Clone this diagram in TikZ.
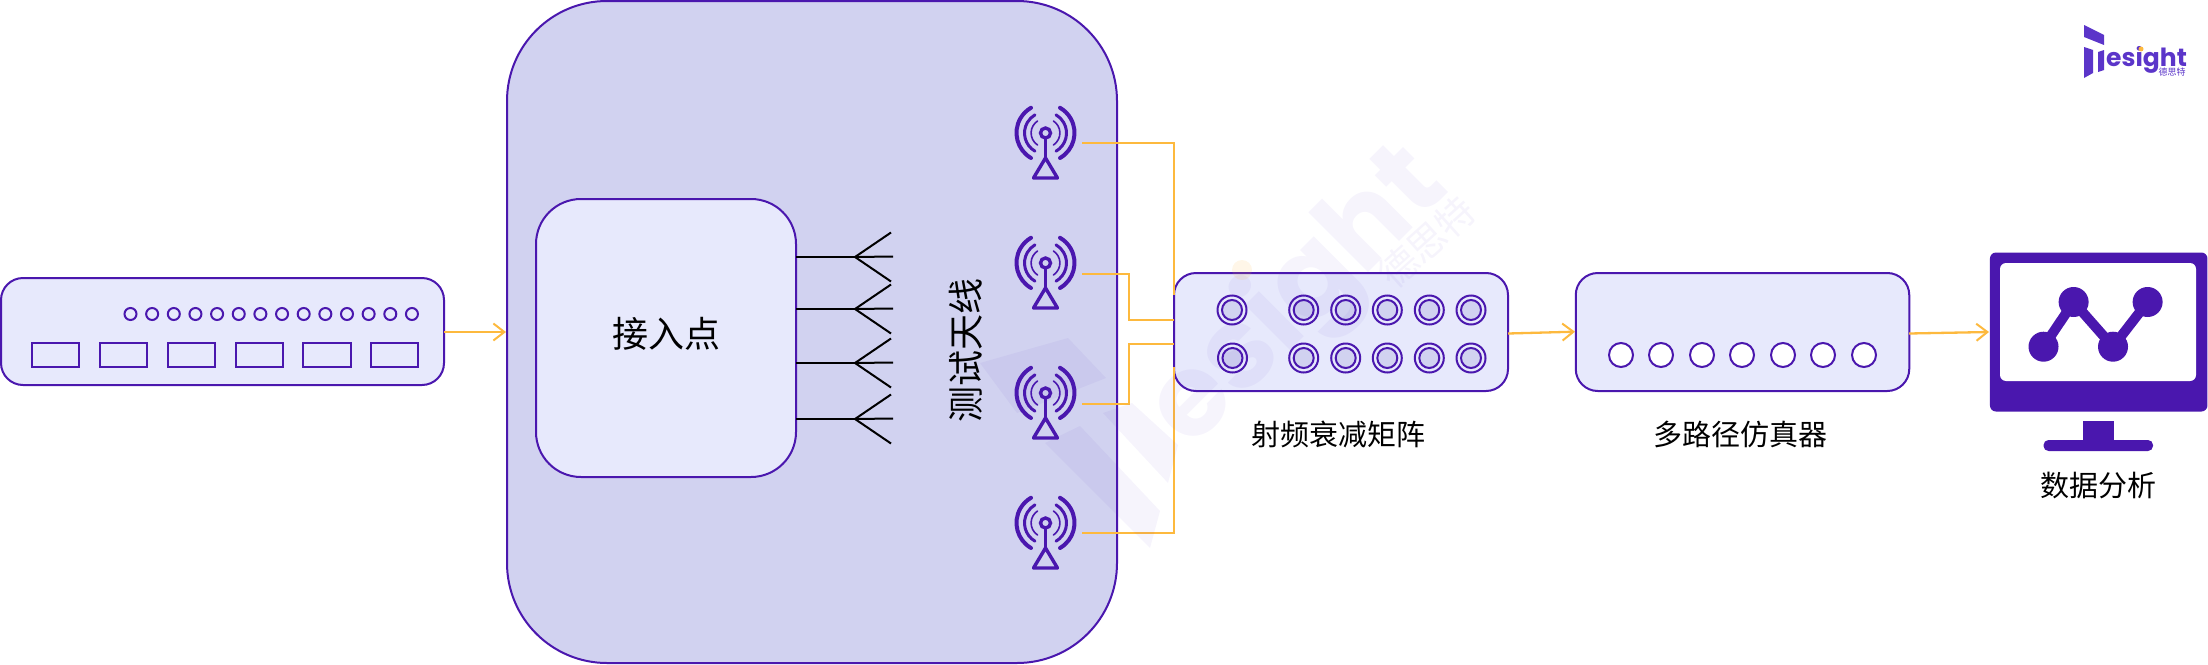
\documentclass[tikz,border=0pt]{standalone}
\usepackage{fontspec}
\setmainfont{Noto Sans CJK SC}
\newfontfamily\logofont{Poppins}
\usetikzlibrary{arrows.meta}
\definecolor{ink}{HTML}{4A17AE}
\definecolor{panel}{HTML}{E7E9FC}
\definecolor{chassis}{HTML}{D1D2F0}
\definecolor{feed}{HTML}{FDB93E}
\definecolor{brand}{HTML}{5B35C9}
\newcommand{\labelsize}[1]{\fontsize{#1}{#1}\selectfont}
\tikzset{
  x=1pt,y=-1pt,
  device/.style={draw=ink,line width=2pt,fill=panel},
  led/.style={draw=ink,line width=2pt,fill=none},
  slot/.style={draw=ink,line width=2pt,fill=none},
  feedline/.style={draw=feed,line width=2.3pt},
  signal/.style={feedline,-{Straight Barb[length=11pt,width=17pt,line width=2pt]}},
  element/.style={draw=black,line width=2pt},
  mastline/.style={draw=ink,line width=3.4pt,line cap=round},
  caption/.style={inner sep=0pt,text=black},
  wm/.style={fill=brand,fill opacity=0.055,draw=none},
}
% radio mast icon, #1 = position of the mast head
\newcommand{\radiomast}[1]{%
  \begin{scope}[shift={#1}]
    \draw[mastline,line width=4pt] (-14.5,25) arc[start angle=120,end angle=240,radius=29];
    \draw[mastline,line width=4pt] (14.5,25) arc[start angle=60,end angle=-60,radius=29];
    \draw[mastline,line width=3pt] (-10.5,18.2) arc[start angle=120,end angle=240,radius=21];
    \draw[mastline,line width=3pt] (10.5,18.2) arc[start angle=60,end angle=-60,radius=21];
    \draw[mastline,line width=1.6pt] (-8,12) arc[start angle=123.7,end angle=236.3,radius=14.4];
    \draw[mastline,line width=1.6pt] (8,12) arc[start angle=56.3,end angle=-56.3,radius=14.4];
    \draw[ink,line width=3.4pt] (0,0) circle[radius=5];
    \draw[mastline,line cap=butt] (0,5) -- (0,25);
    \draw[mastline,line join=round] (0,25) -- (12,45) -- (-12,45) -- cycle;
  \end{scope}}
% coaxial port on the attenuation matrix
\newcommand{\coaxport}[2]{%
  \draw[ink,line width=2pt] (#1,#2) circle[radius=14.5];
  \draw[ink,line width=2pt,fill=chassis] (#1,#2) circle[radius=10];}
\begin{document}
\begin{tikzpicture}
\useasboundingbox (0,0) rectangle (2208,664);

% traffic generator
\draw[device,rounded corners=22pt] (1,278) rectangle (444,385);
\foreach \i in {0,...,13} \draw[led] (130.5+\i*21.65,314) circle[radius=6];
\foreach \a/\b in {32/79,100/147,168/215,236/283,303/351,371/418}
  \draw[slot] (\a,343) rectangle (\b,367);

% shielded chamber
\draw[device,fill=chassis,rounded corners=100pt] (507,1) rectangle (1117,663);
\node[draw=ink,line width=2pt,fill=panel,rounded corners=45pt,minimum width=260pt,minimum height=278pt,inner sep=0pt] (ap) at (666,338) {};
\node[caption] (aplabel) at (666,334) {\labelsize{36}接入点};
\node[caption,rotate=90] (probelabel) at (966,350) {\labelsize{36}测试天线};

% access point antennas
\foreach \y/\n in {257/a,309/b,363/c,419/d}{
  \coordinate (root\n) at (796,\y);
  \coordinate (fork\n) at (855,\y);
  \coordinate (top\n) at (891,\y-24.5);
  \coordinate (mid\n) at (893,\y-0.5);
  \coordinate (low\n) at (891,\y+24.5);
  \draw[element] (root\n) -- (fork\n);
  \draw[element] (top\n) -- (fork\n) -- (low\n);
  \draw[element] (fork\n) -- (mid\n);
}

% test antennas
\radiomast{(1045.5,133)}
\radiomast{(1045.5,263)}
\radiomast{(1045.5,393)}
\radiomast{(1045.5,523)}

% RF attenuation matrix
\node[device,rounded corners=22pt,minimum width=334pt,minimum height=118pt,inner sep=0pt] (matrix) at (1341,332) {};
\coaxport{1232}{310}
\coaxport{1232.5}{358}
\foreach \x in {1303.7,1345.7,1387.3,1429.3,1471}{
  \coaxport{\x}{310}
  \coaxport{\x}{358}
}
\node[caption] (matrixlabel) at (1338,434) {\labelsize{29}射频衰减矩阵};

% multipath emulator
\node[device,rounded corners=22pt,minimum width=333.5pt,minimum height=118pt,inner sep=0pt] (emu) at (1742.5,332) {};
\foreach \x in {1621,1661,1702,1742,1783,1823,1864}
  \draw[led,fill=white] (\x,355) circle[radius=12];
\node[caption] (emulabel) at (1740,434) {\labelsize{29}多路径仿真器};

% analysis monitor
\node[fill=ink,rounded corners=6pt,minimum width=217.5pt,minimum height=159pt,inner sep=0pt] (screen) at (2098.7,332) {};
\fill[white,rounded corners=6pt] (2000,263) rectangle (2196,381);
\fill[ink] (2083,420.7) rectangle (2113.7,445);
\fill[ink,rounded corners=5pt] (2043.5,440) rectangle (2153,451);
\coordinate (pa) at (2043.5,346.7);
\coordinate (pb) at (2073.6,302);
\coordinate (pc) at (2113,346.7);
\coordinate (pd) at (2147.6,302);
\draw[ink,line width=10pt] (pa) -- (pb) -- (pc) -- (pd);
\foreach \p in {pa,pb,pc,pd} \fill[ink] (\p) circle[radius=15];
\node[caption] (monlabel) at (2098,486) {\labelsize{29}数据分析};

% signal path
\coordinate (genout) at (444,332);
\coordinate (chamberin) at (506,332);
\draw[signal] (genout) -- (chamberin);
\coordinate (ant1) at (1082,143);
\coordinate (ant2) at (1082,274);
\coordinate (ant3) at (1082,404);
\coordinate (ant4) at (1082,533);
\draw[feedline] (ant1) -- (1174,143) -- (1174,295);
\draw[feedline] (ant2) -- (1129,274) -- (1129,320) -- (1174,320);
\draw[feedline] (ant3) -- (1129,404) -- (1129,344) -- (1174,344);
\draw[feedline] (ant4) -- (1174,533) -- (1174,367);
\draw[signal] (1508,333.5) -- (1575,331.7);
\draw[signal] (1909,333.5) -- (1989,332);

% company mark
\fill[brand] (2084,25) -- (2104,35) -- (2104,45) -- (2084,37) -- cycle;
\fill[brand] (2084,47) -- (2093,50) -- (2093,73) -- (2084,78) -- cycle;
\fill[brand] (2098,52) -- (2104,50) -- (2104,70) -- (2098,72) -- cycle;
\node[inner sep=0pt,anchor=base west,text=brand] (logotext) at (2106,66) {\logofont\bfseries\labelsize{25}esight};
\fill[feed] (2141,49) circle[radius=2.5];
\node[inner sep=0pt,text=brand] (logocn) at (2172,72.5) {\labelsize{9}德思特};

% faint diagonal company mark
\fill[wm] (980,363) -- (1068,338) -- (1106,378) -- (1017,413) -- cycle;
\fill[wm] (1045,443) -- (1080,426) -- (1160,511) -- (1150,548) -- cycle;
\fill[wm] (1103,413) -- (1132,403) -- (1178,445) -- (1168,483) -- cycle;
\node[rotate=45,anchor=base west,inner sep=0pt,text=brand,opacity=0.055] (wmtext) at (1190.5,450.5) {\logofont\bfseries\labelsize{114}esight};
\fill[feed,fill opacity=0.12] (1242,270) circle[radius=10];
\node[rotate=42,inner sep=0pt,text=brand,opacity=0.055] (wmcn) at (1427,242) {\labelsize{38}德思特};
\end{tikzpicture}
\end{document}
